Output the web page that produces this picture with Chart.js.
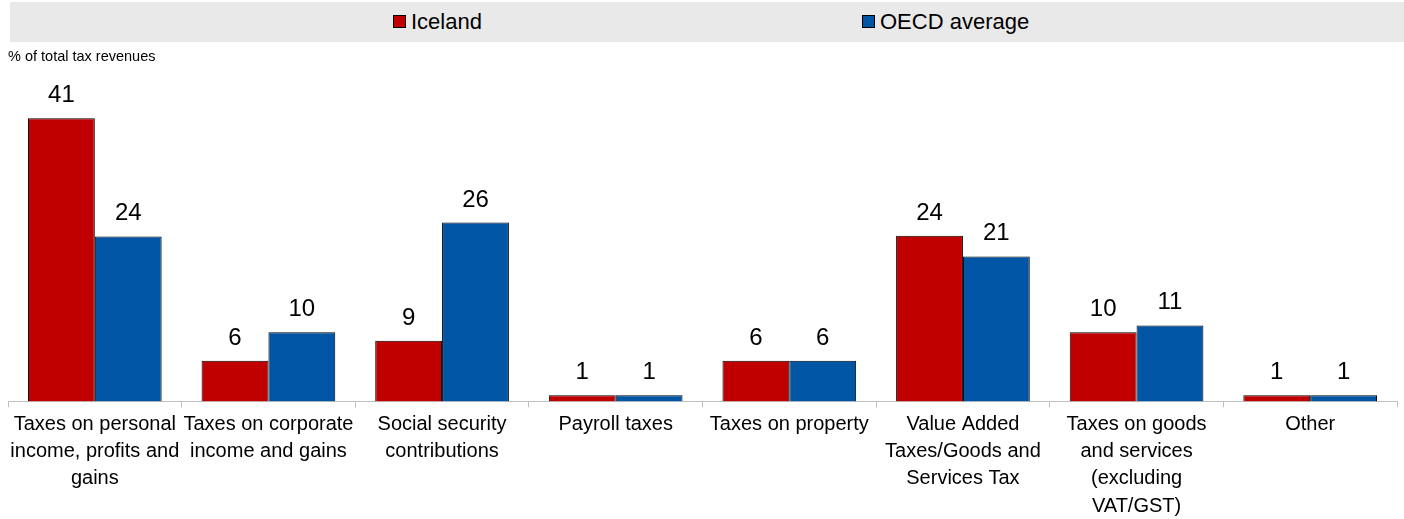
<!DOCTYPE html>
<html>
<head>
<meta charset="utf-8">
<script src="https://cdn.jsdelivr.net/npm/chart.js@4/dist/chart.umd.min.js"></script>
<style>
  html, body { margin: 0; padding: 0; background: #fff; overflow: hidden; }
  #wrap { position: relative; width: 1404px; height: 519px; overflow: hidden; font-family: 'Liberation Sans', Arial, sans-serif; }
  #legend { position: absolute; left: 10px; top: 2px; width: 1394px; height: 40px; background: #e9e9e9; }
  .item { position: absolute; top: 8px; font-size: 22px; line-height: 24px; color: #000; }
  .swatch { display: inline-block; width: 11px; height: 11px; border: 1px solid #000; margin-right: 5px; vertical-align: 1px; }
  #ytitle { position: absolute; left: 8px; top: 48px; font-size: 14.5px; color: #000; }
  canvas { position: absolute; left: 0; top: 0; }
</style>
</head>
<body>
<div id="wrap">
  <canvas id="bar-chart" width="1404" height="523"></canvas>
  <div id="legend"></div>
  <div id="ytitle">% of total tax revenues</div>
</div>
<script>
// Chart data
const categories = [
    ['Taxes on personal', 'income, profits and', 'gains'],
    ['Taxes on corporate', 'income and gains'],
    ['Social security', 'contributions'],
    ['Payroll taxes'],
    ['Taxes on property'],
    ['Value Added', 'Taxes/Goods and', 'Services Tax'],
    ['Taxes on goods', 'and services', '(excluding', 'VAT/GST)'],
    ['Other']
];
const icelandValues = [41.0, 5.9, 8.8, 0.9, 5.9, 24.0, 10.0, 0.9];
const oecdValues = [23.9, 10.0, 25.9, 0.9, 5.9, 21.0, 11.0, 0.9];
const seriesNames = ['Iceland', 'OECD average'];
const seriesColors = ['#c00000', '#0055a5'];
const legendLeft = [383, 852];

// HTML legend
const legendEl = document.getElementById('legend');
seriesNames.forEach((name, i) => {
    const item = document.createElement('div');
    item.className = 'item';
    item.style.left = legendLeft[i] + 'px';
    item.innerHTML = `<span class="swatch" style="background:${seriesColors[i]}"></span>${name}`;
    legendEl.appendChild(item);
});

// value labels above bars
const valueLabels = {
    id: 'valueLabels',
    afterDatasetsDraw(chart) {
        const ctx = chart.ctx;
        ctx.save();
        ctx.font = '24px "Liberation Sans", Arial, sans-serif';
        ctx.fillStyle = '#000';
        ctx.textAlign = 'center';
        ctx.textBaseline = 'alphabetic';
        chart.data.datasets.forEach((ds, i) => {
            chart.getDatasetMeta(i).data.forEach((bar, j) => {
                ctx.fillText(Math.round(ds.data[j]), bar.x, bar.y - 16);
            });
        });
        ctx.restore();
    }
};

const ctx = document.getElementById('bar-chart').getContext('2d');
new Chart(ctx, {
    type: 'bar',
    data: {
        labels: categories,
        datasets: [{
            label: seriesNames[0],
            data: icelandValues,
            backgroundColor: seriesColors[0],
            borderColor: '#000',
            borderWidth: 1,
            borderSkipped: 'bottom'
        }, {
            label: seriesNames[1],
            data: oecdValues,
            backgroundColor: seriesColors[1],
            borderColor: '#000',
            borderWidth: 1,
            borderSkipped: 'bottom'
        }]
    },
    options: {
        responsive: false,
        animation: false,
        categoryPercentage: 0.77,
        barPercentage: 1.0,
        layout: { padding: { left: 8, right: 7, top: 70, bottom: 0 } },
        plugins: {
            legend: { display: false },
            tooltip: { enabled: false }
        },
        scales: {
            x: {
                grid: {
                    offset: true,
                    drawOnChartArea: false,
                    drawTicks: true,
                    tickLength: 6,
                    color: '#bfbfbf'
                },
                border: { color: '#bfbfbf', width: 1 },
                ticks: {
                    color: '#000',
                    autoSkip: false,
                    maxRotation: 0,
                    minRotation: 0,
                    padding: 3,
                    font: { family: '"Liberation Sans", Arial, sans-serif', size: 20, lineHeight: 1.37 }
                }
            },
            y: {
                display: false,
                min: 0,
                max: 48
            }
        }
    },
    plugins: [valueLabels]
});
</script>
</body>
</html>
